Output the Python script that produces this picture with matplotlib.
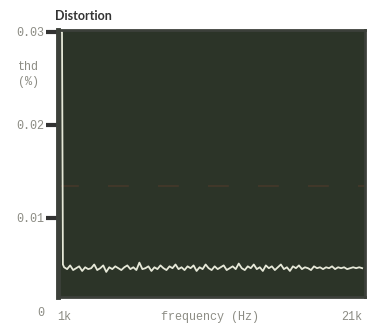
import matplotlib.pyplot as plt
import numpy as np

# thd trace (frequency in Hz, thd in %)
freq = [1000, 1060, 1120, 1200, 1400, 1600, 1800, 2000, 2200, 2400, 2600, 2800,
        3000, 3200, 3400, 3600, 3800, 4000, 4200, 4400, 4600, 4800, 5000, 5200,
        5400, 5600, 5800, 6000, 6200, 6400, 6600, 6800, 7000, 7200, 7400, 7600,
        7800, 8000, 8200, 8400, 8600, 8800, 9000, 9200, 9400, 9600, 9800, 10000,
        10200, 10400, 10600, 10800, 11000, 11200, 11400, 11600, 11800, 12000, 12200,
        12400, 12600, 12800, 13000, 13200, 13400, 13600, 13800, 14000, 14200, 14400,
        14600, 14800, 15000, 15200, 15400, 15600, 15800, 16000, 16200, 16400, 16600,
        16800, 17000, 17200, 17400, 17600, 17800, 18000, 18200, 18400, 18600, 18800,
        19000, 19200, 19400, 19600, 19800, 20000, 20200, 20400, 20600, 20800, 21000]
thd = [0.0300, 0.0300, 0.0050, 0.0047, 0.0045, 0.0049, 0.0044, 0.0046, 0.0048, 0.0043,
       0.0047, 0.0045, 0.0046, 0.0050, 0.0044, 0.0046, 0.0049, 0.0042, 0.0047, 0.0045,
       0.0048, 0.0046, 0.0044, 0.0047, 0.0049, 0.0045, 0.0047, 0.0044, 0.0052, 0.0045,
       0.0046, 0.0048, 0.0043, 0.0047, 0.0045, 0.0049, 0.0046, 0.0044, 0.0048, 0.0046,
       0.0050, 0.0045, 0.0047, 0.0044, 0.0048, 0.0046, 0.0049, 0.0043, 0.0047, 0.0045,
       0.0050, 0.0046, 0.0044, 0.0048, 0.0045, 0.0047, 0.0049, 0.0044, 0.0046, 0.0048,
       0.0045, 0.0051, 0.0046, 0.0044, 0.0048, 0.0046, 0.0050, 0.0045, 0.0047, 0.0043,
       0.0049, 0.0046, 0.0048, 0.0044, 0.0047, 0.0050, 0.0045, 0.0047, 0.0043, 0.0048,
       0.0046, 0.0049, 0.0045, 0.0047, 0.0046, 0.0044, 0.0048, 0.0046, 0.0047, 0.0045,
       0.0047, 0.0046, 0.0048, 0.0045, 0.0047, 0.0046, 0.0047, 0.0045, 0.0046, 0.0047,
       0.0046, 0.0047, 0.0046]
yticks = [0.01, 0.02, 0.03]
ytick_labels = ['0.01', '0.02', '0.03']

fig = plt.figure(figsize=(3.7, 3.25), dpi=100)
ax = fig.add_axes([0.157, 0.086, 0.830, 0.822])
ax.set_facecolor('#2c3428')

# faint red dashed reference line
ax.axhline(0.0134, color='#5a3b2b', lw=1.5, ls=(0, (10, 14)), alpha=0.45)
ax.plot(freq, thd, color='#e6e8d8', lw=1.3)

ax.set_xlim(800, 21200)
ax.set_ylim(0.0015, 0.0302)
ax.set_xticks([])
ax.set_yticks(yticks)
ax.set_yticklabels(ytick_labels, family='Liberation Mono', fontsize=8.5, color='#8c8c84')
ax.tick_params(axis='y', length=9, width=3, color='#333333', pad=1)
for s in ax.spines.values():
    s.set_color('#3c403a')
    s.set_linewidth(2)
ax.spines['left'].set_linewidth(3.5)

mono = dict(family='Liberation Mono', fontsize=8.5, color='#8c8c84')
fig.text(0.110, 0.038, '0', ha='center', va='center', **mono)
fig.text(0.155, 0.026, '1k', ha='left', va='center', **mono)
fig.text(0.978, 0.026, '21k', ha='right', va='center', **mono)
fig.text(0.568, 0.026, 'frequency (Hz)', ha='center', va='center', **mono)
fig.text(0.076, 0.795, 'thd', ha='center', va='center', **mono)
fig.text(0.076, 0.748, '(%)', ha='center', va='center', **mono)
fig.text(0.150, 0.950, 'Distortion', ha='left', va='center', family='Lato',
         fontweight='bold', fontsize=9, color='#333333')

fig.savefig('out.png', dpi=100, facecolor='white')
